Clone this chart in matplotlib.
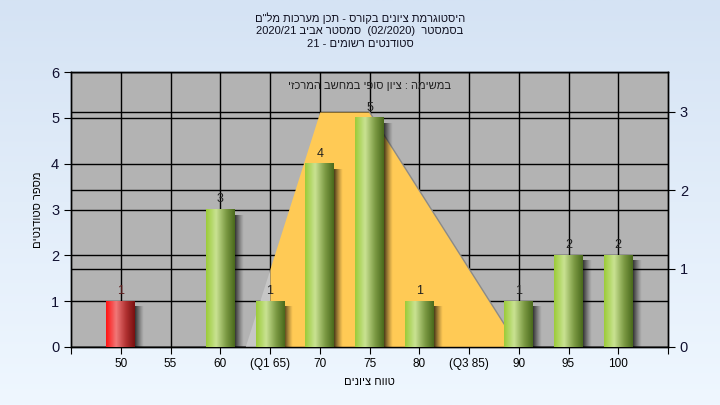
import numpy as np
import matplotlib
matplotlib.use("Agg")
import matplotlib.pyplot as plt
from matplotlib.colors import LinearSegmentedColormap

plt.rcParams['font.family'] = ['Liberation Sans', 'DejaVu Sans']

# data
grades = [50, 55, 60, 65, 70, 75, 80, 85, 90, 95, 100]
tick_labels = ["50", "55", "60", "(Q1 65)", "70", "75", "80", "(Q3 85)", "90", "95", "100"]
counts = [1, 0, 3, 1, 4, 5, 1, 0, 1, 2, 2]
failed = [True, False, False, False, False, False, False, False, False, False, False]

# distribution curve (right axis)
curve_grade = [62.5, 65, 70, 75, 90]
curve_value = [0, 1, 3, 3, 0]

title_lines = ['היסטוגרמת ציונים בקורס - תכן מערכות מל"ם',
               'בסמסטר  (02/2020)  סמסטר אביב 2020/21',
               'סטודנטים רשומים - 21']
note = 'במשימה : ציון סופי במחשב המרכזי'
xlabel = 'טווח ציונים'
ylabel = 'מספר סטודנטים'


def heb(s):
    # visual order for right-to-left text
    out = []
    for tok in s.split(' ')[::-1]:
        if any('\u0590' <= c <= '\u05ff' for c in tok):
            tok = tok[::-1]
        out.append(tok)
    return ' '.join(out)


def idx(g):
    return (np.asarray(g, dtype=float) - 50) / 5


fig = plt.figure(figsize=(7.2, 4.05), dpi=100)

# background gradient
bg = fig.add_axes([0, 0, 1, 1], zorder=-10)
grad = np.linspace(0, 1, 256).reshape(-1, 1)
bg_cmap = LinearSegmentedColormap.from_list("bg", ["#d5e3f4", "#eff7ff"])
bg.imshow(grad, aspect='auto', cmap=bg_cmap, extent=[0, 1, 0, 1], origin='upper')
bg.set_axis_off()

rect = [71 / 720, 1 - 347 / 405, (668 - 71) / 720, (347 - 72) / 405]
ax2 = fig.add_axes(rect, zorder=0)
ax = fig.add_axes(rect, zorder=1, sharex=ax2)
ax.patch.set_visible(False)
ax2.set_facecolor("#b3b3b3")
ax2.yaxis.tick_right()
ax2.xaxis.set_visible(False)

x = np.arange(len(grades))
ax.set_xlim(-1, 11)
ax.set_ylim(0, 6)
ax2.set_ylim(0, 3.51)

# grid lines
for v in range(0, 7):
    ax.axhline(v, color="black", lw=1, zorder=0.5)
for v in range(0, 4):
    ax2.axhline(v, color="black", lw=1)
for xi in x:
    ax.axvline(xi, color="black", lw=1, zorder=0.5)

# curve area
cx = idx(curve_grade)
cv = np.array(curve_value, dtype=float)
ax.fill_between(cx[:2], cv[:2], color="#c6c6c6", lw=0, zorder=1,
                transform=ax2.transData)
ax.fill_between([cx[1]] + list(cx[1:]), [0] + list(cv[1:]), color="#ffca55",
                lw=0, zorder=1.1, transform=ax2.transData)
ax.plot(cx[3:], cv[3:], color="#8a8a8a", lw=1, zorder=1.2, transform=ax2.transData)

# bars
w = 0.58
green = LinearSegmentedColormap.from_list("g", [(0, "#9ccc3a"), (0.35, "#c9e292"), (0.7, "#7c9a44"), (1, "#4a6a1c")])
red = LinearSegmentedColormap.from_list("r", [(0, "#ff1414"), (0.35, "#f07878"), (0.7, "#b03030"), (1, "#781010")])
hgrad = np.linspace(0, 1, 64).reshape(1, -1)
shadow = np.zeros((1, 32, 4))
shadow[0, :, 3] = np.linspace(0.75, 0, 32) ** 1.2
for xi, c, f in zip(x, counts, failed):
    if c == 0:
        continue
    ax.imshow(shadow, extent=[xi + w / 2, xi + w / 2 + 0.18, 0, c - 0.12],
              aspect='auto', zorder=2.5, interpolation='bilinear')
    ax.imshow(hgrad, extent=[xi - w / 2, xi + w / 2, 0, c], aspect='auto',
              cmap=red if f else green, zorder=3, interpolation='bilinear')
    ax.annotate(str(c), (xi, c), xytext=(0, 3), textcoords="offset points",
                ha="center", va="bottom", fontsize=9,
                color="#5a1a1a" if f else "#202020", zorder=4)

ax.set_xlim(-1, 11)
ax.set_ylim(0, 6)

ax.set_xticks(list(x) + [-1, 11])
ax.set_xticklabels(tick_labels + ["", ""], fontsize=8.5)
ax.set_yticks(range(0, 7))
ax.tick_params(axis='y', labelsize=10.5, length=5, labelcolor="#101030")
ax.tick_params(axis='x', length=5, pad=3)
ax2.set_yticks(range(0, 4))
ax2.tick_params(axis='y', labelsize=10.5, length=5, labelcolor="#101030")
ax.tick_params(axis='y', which='both', right=False)

for a in (ax, ax2):
    for s in a.spines.values():
        s.set_color("black")
        s.set_linewidth(1)

ax.set_xlabel(heb(xlabel), fontsize=8, labelpad=5)
ax.set_ylabel(heb(ylabel), fontsize=8, labelpad=6)

ax.text(0.5, 0.95, heb(note), transform=ax.transAxes, ha="center", va="center",
        fontsize=8, color="#202020", zorder=5)

for i, line in enumerate(title_lines):
    fig.text(0.5, 1 - (18 + 13 * i) / 405, heb(line), ha="center", va="center",
             fontsize=8, color="#101020")

fig.savefig("out.png", dpi=100)
